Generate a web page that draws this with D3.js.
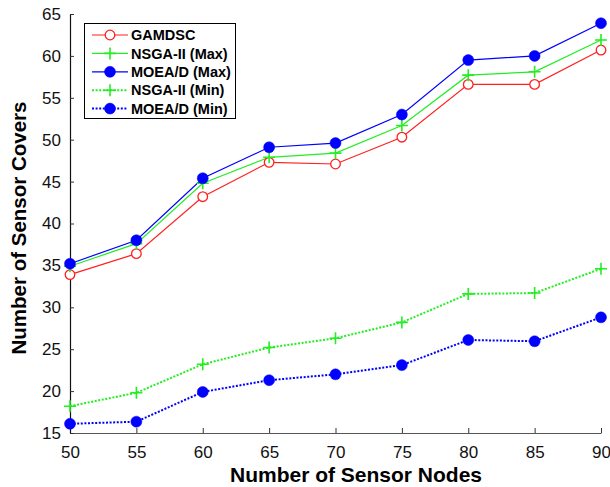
<!DOCTYPE html>
<html>
<head>
<meta charset="utf-8">
<script src="https://cdn.jsdelivr.net/npm/d3@7"></script>
<style>
  html, body { margin: 0; padding: 0; background: #fff; }
  svg { display: block; font-family: "Liberation Sans", Arial, Helvetica, sans-serif; }
</style>
</head>
<body>
<svg id="chart" width="610" height="487"></svg>
<script>
// ---- data ----
const nodes = [50, 55, 60, 65, 70, 75, 80, 85, 90];
const gamdsc   = [33.9, 36.4, 43.2, 47.3, 47.1, 50.3, 56.6, 56.6, 60.7];
const nsgaMax  = [34.9, 37.6, 44.8, 47.9, 48.4, 51.7, 57.7, 58.1, 61.9];
const moeaMax  = [35.2, 38.0, 45.4, 49.1, 49.6, 53.0, 59.5, 60.0, 63.9];
const nsgaMin  = [18.2, 19.8, 23.2, 25.2, 26.3, 28.2, 31.6, 31.7, 34.6];
const moeaMin  = [16.1, 16.35, 19.9, 21.3, 22.0, 23.1, 26.1, 25.95, 28.8];
const seriesNames = ["GAMDSC", "NSGA-II (Max)", "MOEA/D (Max)", "NSGA-II (Min)", "MOEA/D (Min)"];
const xTicks = [50, 55, 60, 65, 70, 75, 80, 85, 90];
const yTicks = [15, 20, 25, 30, 35, 40, 45, 50, 55, 60, 65];
const xTitle = "Number of Sensor Nodes";
const yTitle = "Number of Sensor Covers";

(function () {
// ---- styles ----
const styles = [
  { values: gamdsc,  color: "#ff2020", dash: null,  marker: "open" },
  { values: nsgaMax, color: "#22ee22", dash: null,  marker: "plus" },
  { values: moeaMax, color: "#0000ff", dash: null,  marker: "dot" },
  { values: nsgaMin, color: "#22ee22", dash: "2,1.6", marker: "plus", width: 2 },
  { values: moeaMin, color: "#0000ff", dash: "2,1.6", marker: "dot", width: 2 }
];

const svg = d3.select("#chart");
const pLeft = 70, pRight = 601, pTop = 14, pBottom = 433;
const x = d3.scaleLinear().domain([50, 90]).range([pLeft, pRight]);
const y = d3.scaleLinear().domain([15, 65]).range([pBottom, pTop]);

// axes
const yAxis = d3.axisLeft(y).tickValues(yTicks).tickSizeInner(-4).tickSizeOuter(0).tickPadding(9);
const xAxis = d3.axisBottom(x).tickValues(xTicks).tickSizeInner(-5).tickSizeOuter(0).tickPadding(13);

const gx = svg.append("g").attr("transform", `translate(0,${pBottom})`).call(xAxis);
gx.select(".domain").attr("stroke", "#555").attr("stroke-width", 1.2);
gx.selectAll(".tick line").attr("stroke", "#333");
gx.selectAll(".tick text").attr("font-size", 17).attr("fill", "#111")
  .attr("font-family", "Liberation Sans, Arial, sans-serif");

const gy = svg.append("g").attr("transform", `translate(${pLeft},0)`).call(yAxis);
gy.select(".domain").attr("stroke", "#111").attr("stroke-width", 1.2);
gy.selectAll(".tick line").attr("stroke", "#333");
gy.selectAll(".tick text").attr("font-size", 17).attr("fill", "#111")
  .attr("font-family", "Liberation Sans, Arial, sans-serif");

// titles
svg.append("text").attr("x", 356).attr("y", 482).attr("text-anchor", "middle")
  .attr("font-size", 21).attr("font-weight", "bold").attr("fill", "#000").text(xTitle);
svg.append("text").attr("transform", "translate(26,228) rotate(-90)").attr("text-anchor", "middle")
  .attr("font-size", 20.5).attr("font-weight", "bold").attr("fill", "#000").text(yTitle);

// markers
function drawMarker(g, type, cx, cy, color) {
  if (type === "open") {
    g.append("circle").attr("cx", cx).attr("cy", cy).attr("r", 4.8)
      .attr("fill", "#fff").attr("stroke", color).attr("stroke-width", 1.3);
  } else if (type === "dot") {
    g.append("circle").attr("cx", cx).attr("cy", cy).attr("r", 5.5)
      .attr("fill", color).attr("stroke", color).attr("stroke-width", 0.5);
  } else {
    g.append("path").attr("d", `M${cx - 6},${cy}H${cx + 6}M${cx},${cy - 6}V${cy + 6}`)
      .attr("stroke", color).attr("stroke-width", 1.6).attr("fill", "none");
  }
}

const line = d3.line().x((d, i) => x(nodes[i])).y(d => y(d));
const plot = svg.append("g");
styles.forEach(s => {
  plot.append("path").datum(s.values).attr("d", line)
    .attr("fill", "none").attr("stroke", s.color).attr("stroke-width", s.width || 1.2)
    .attr("stroke-dasharray", s.dash);
});
styles.forEach(s => {
  const g = plot.append("g");
  s.values.forEach((v, i) => drawMarker(g, s.marker, x(nodes[i]), y(v), s.color));
});

// legend
const lg = svg.append("g");
lg.append("rect").attr("x", 84.5).attr("y", 23.5).attr("width", 151).attr("height", 95)
  .attr("fill", "#fff").attr("stroke", "#000").attr("stroke-width", 1);
const ly0 = 35, lstep = 18.4;
styles.forEach((s, i) => {
  const yy = ly0 + i * lstep;
  lg.append("line").attr("x1", 92).attr("x2", 128).attr("y1", yy).attr("y2", yy)
    .attr("stroke", s.color).attr("stroke-width", s.width || 1.2).attr("stroke-dasharray", s.dash);
  drawMarker(lg, s.marker, 110, yy, s.color);
  lg.append("text").attr("x", 131).attr("y", yy).attr("dy", "0.36em")
    .attr("font-size", 14.5).attr("font-weight", "bold").attr("fill", "#000").text(seriesNames[i]);
});
})();
</script>
</body>
</html>
